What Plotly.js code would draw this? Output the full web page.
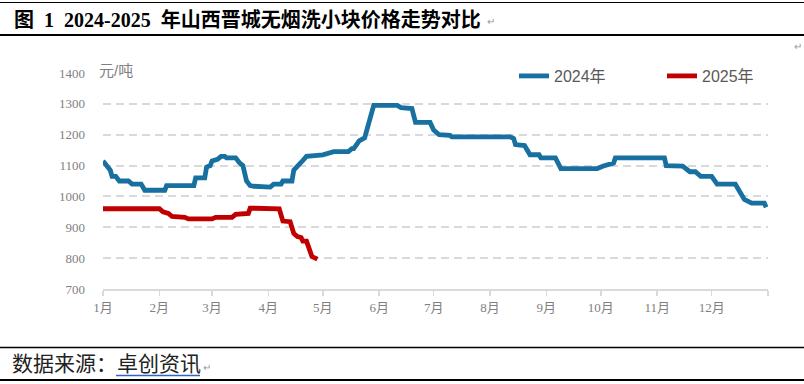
<!DOCTYPE html>
<html>
<head>
<meta charset="utf-8">
<script src="https://cdn.plot.ly/plotly-3.0.1.min.js"></script>
<style>html,body{margin:0;padding:0;background:#fff;overflow:hidden;}#chart{width:804px;height:384px;}</style>
</head>
<body>
<div id="chart"></div>
<script>
// ---- data ----
const dates2024 = ['2024-01-01','2024-01-03','2024-01-05','2024-01-06','2024-01-08','2024-01-10','2024-01-15','2024-01-17','2024-01-22','2024-01-24','2024-02-04','2024-02-05','2024-02-20','2024-02-21','2024-02-26','2024-02-27','2024-02-29','2024-03-01','2024-03-04','2024-03-06','2024-03-08','2024-03-09','2024-03-14','2024-03-16','2024-03-18','2024-03-20','2024-03-22','2024-03-24','2024-03-29','2024-04-02','2024-04-04','2024-04-08','2024-04-09','2024-04-14','2024-04-15','2024-04-17','2024-04-19','2024-04-22','2024-05-01','2024-05-07','2024-05-15','2024-05-17','2024-05-18','2024-05-21','2024-05-24','2024-05-29','2024-06-11','2024-06-13','2024-06-19','2024-06-21','2024-06-29','2024-07-01','2024-07-04','2024-07-10','2024-07-11','2024-08-12','2024-08-14','2024-08-15','2024-08-20','2024-08-23','2024-08-28','2024-08-29','2024-09-06','2024-09-09','2024-09-29','2024-10-02','2024-10-08','2024-10-09','2024-11-05','2024-11-06','2024-11-15','2024-11-19','2024-11-22','2024-11-25','2024-12-01','2024-12-04','2024-12-14','2024-12-16','2024-12-19','2024-12-23','2024-12-30','2024-12-31'];
const prices2024 = [1115,1100,1085,1065,1065,1050,1050,1040,1040,1020,1020,1035,1035,1060,1060,1095,1100,1115,1120,1130,1130,1125,1125,1110,1100,1050,1035,1033,1030,1030,1040,1040,1050,1050,1085,1100,1110,1130,1135,1145,1145,1155,1155,1180,1190,1295,1295,1288,1285,1240,1240,1215,1200,1198,1193,1193,1188,1168,1165,1135,1135,1125,1125,1090,1090,1098,1108,1125,1125,1100,1098,1080,1080,1065,1065,1040,1040,1020,990,978,978,965];
const dates2025 = ['2025-01-01','2025-02-01','2025-02-03','2025-02-06','2025-02-08','2025-02-15','2025-02-17','2025-03-01','2025-03-03','2025-03-12','2025-03-14','2025-03-21','2025-03-22','2025-03-30','2025-04-01','2025-04-07','2025-04-09','2025-04-13','2025-04-15','2025-04-17','2025-04-19','2025-04-20','2025-04-22','2025-04-25','2025-04-28'];
const prices2025 = [960,960,950,945,935,932,927,927,932,932,942,945,962,962,960,960,920,918,880,870,867,855,855,805,797];
const monthTicks = ['2024-01-01','2024-02-01','2024-03-01','2024-04-01','2024-05-01','2024-06-01','2024-07-01','2024-08-01','2024-09-01','2024-10-01','2024-11-01','2024-12-01','2025-01-01'];
const monthLabels = ['1月','2月','3月','4月','5月','6月','7月','8月','9月','10月','11月','12月',''];
const seriesNames = ['2024年','2025年'];
const titleText = '图&nbsp;&nbsp;1&nbsp;&nbsp;2024-2025&nbsp;&nbsp;年山西晋城无烟洗小块价格走势对比';
const unitText = '元/吨';
const sourceLabel = '数据来源：';
const sourceName = '卓创资讯';

// ---- geometry helpers (pixel -> paper) ----
const L = 103, R = 768, T = 73, B = 289;
const xp = px => (px - L) / (R - L);
const yp = py => (B - py) / (B - T);

const serif = 'Liberation Serif, Noto Sans CJK SC, serif';
const sans = 'Liberation Sans, Noto Sans CJK SC, sans-serif';
const grey = '#7f7f7f';

const traces = [
  {x: dates2024, y: prices2024, name: seriesNames[0], type: 'scatter', mode: 'lines',
   line: {color: '#17709f', width: 4.8}},
  {x: dates2025.map(d => d.replace('2025-', '2024-')), y: prices2025, name: seriesNames[1], type: 'scatter', mode: 'lines',
   line: {color: '#c00000', width: 4.8}}
];

const hline = (py, w, color) => ({type: 'line', xref: 'paper', yref: 'paper', x0: xp(0), x1: xp(804), y0: yp(py), y1: yp(py), line: {color: color || '#000', width: w}});

const layout = {
  width: 804, height: 384,
  margin: {l: L, r: 804 - R, t: T, b: 384 - B, pad: 0, autoexpand: false},
  paper_bgcolor: '#fff', plot_bgcolor: '#fff',
  showlegend: true,
  legend: {orientation: 'h', x: xp(514), xanchor: 'left', y: yp(76), yanchor: 'middle',
    font: {family: sans, size: 16, color: '#595959'}, bgcolor: 'rgba(0,0,0,0)',
    entrywidth: 103, entrywidthmode: 'pixels', itemclick: false},
  xaxis: {type: 'date', range: ['2024-01-01', '2025-01-01'], tickmode: 'array', tickvals: monthTicks, ticktext: monthLabels,
    ticks: 'outside', ticklen: 5, tickwidth: 1.5, tickcolor: '#d9d9d9', showline: true, linecolor: '#d9d9d9', linewidth: 2,
    showgrid: false, zeroline: false, automargin: false, tickfont: {family: serif, size: 13, color: grey}, fixedrange: true},
  yaxis: {range: [700, 1400], tick0: 0, dtick: 100, showgrid: true, gridcolor: '#d9d9d9', gridwidth: 2, griddash: '8px,5px',
    showline: false, zeroline: false, automargin: false, ticks: '', ticklabelstandoff: 17, tickfont: {family: serif, size: 13, color: grey}, fixedrange: true},
  shapes: [
    hline(2.5, 1), hline(35, 2), hline(347.5, 1.5), hline(380, 2),
    {type: 'line', xref: 'paper', yref: 'paper', x0: xp(116), x1: xp(200), y0: yp(375.5), y1: yp(375.5), line: {color: '#2e64c8', width: 1.5}}
  ],
  annotations: [
    {text: '<b>' + titleText + '</b>', xref: 'paper', yref: 'paper', x: xp(12), y: yp(20), xanchor: 'left', yanchor: 'middle', showarrow: false,
     font: {family: serif, size: 20, color: '#000'}},
    {text: '↵', xref: 'paper', yref: 'paper', x: xp(485), y: yp(22), xanchor: 'left', yanchor: 'middle', showarrow: false, font: {family: sans, size: 10, color: '#999'}},
    {text: sourceLabel + sourceName, xref: 'paper', yref: 'paper', x: xp(10), y: yp(364), xanchor: 'left', yanchor: 'middle', showarrow: false,
     font: {family: serif, size: 21, color: '#222'}},
    {text: '↵', xref: 'paper', yref: 'paper', x: xp(201), y: yp(367), xanchor: 'left', yanchor: 'middle', showarrow: false, font: {family: sans, size: 10, color: '#999'}},
    {text: '↵', xref: 'paper', yref: 'paper', x: xp(792), y: yp(46), xanchor: 'left', yanchor: 'middle', showarrow: false, font: {family: sans, size: 10, color: '#999'}},
    {text: unitText, xref: 'paper', yref: 'paper', x: xp(97), y: yp(70), xanchor: 'left', yanchor: 'middle', showarrow: false,
     font: {family: sans, size: 15, color: grey}, bgcolor: '#fff'}
  ],
  hovermode: false
};

Plotly.newPlot('chart', traces, layout, {staticPlot: true, displayModeBar: false});
</script>
</body>
</html>
